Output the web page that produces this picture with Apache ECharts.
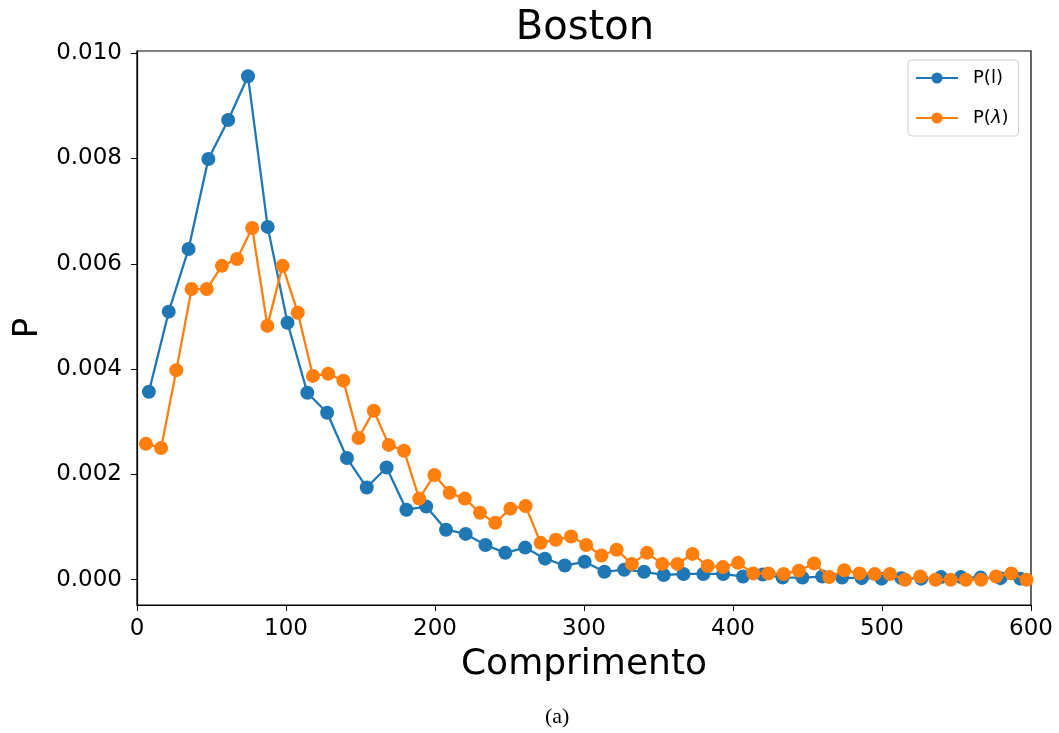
<!DOCTYPE html>
<html>
<head>
<meta charset="utf-8">
<title>Boston</title>
<script src="https://cdn.jsdelivr.net/npm/echarts@6/dist/echarts.min.js"></script>
<style>
  html, body { margin: 0; padding: 0; background: #fff; }
  #chart { width: 1059px; height: 733px; }
</style>
</head>
<body>
<div id="chart"></div>
<script>
// dados - P(l)
var xL = [8, 21.3, 34.6, 47.9, 61.2, 74.5, 87.7, 101, 114.3, 127.6, 140.9, 154.2, 167.5, 180.8, 194.1,
  207.4, 220.6, 233.9, 247.2, 260.5, 273.8, 287.1, 300.4, 313.7, 327, 340.3, 353.5, 366.8, 380.1, 393.4,
  406.7, 420, 433.3, 446.6, 459.9, 473.2, 486.4, 499.7, 513, 526.3, 539.6, 552.9, 566.2, 579.5, 592.8];
var pL = [0.00357, 0.00509, 0.00628, 0.00799, 0.00873, 0.00956, 0.00670, 0.00488, 0.00355, 0.00317,
  0.00231, 0.00175, 0.00213, 0.00133, 0.00139, 0.00095, 0.00087, 0.00066, 0.00051, 0.00061,
  0.00040, 0.00027, 0.00034, 0.00015, 0.00019, 0.00015, 0.00009, 0.00011, 0.00011, 0.00011,
  0.00006, 0.00010, 0.00004, 0.00004, 0.00006, 0.00004, 0.00003, 0.00002, 0.00003, 0.00002,
  0.00005, 0.00005, 0.00004, 0.00003, 0.00002];

// P(lambda)
var xLam = [6, 16.2, 26.4, 36.6, 46.8, 57, 67.1, 77.3, 87.5, 97.7, 107.9, 118.1, 128.3, 138.5, 148.7,
  158.9, 169, 179.2, 189.4, 199.6, 209.8, 220, 230.2, 240.4, 250.6, 260.8, 270.9, 281.1, 291.3, 301.5,
  311.7, 321.9, 332.1, 342.3, 352.5, 362.7, 372.8, 383, 393.2, 403.4, 413.6, 423.8, 434, 444.2, 454.4,
  464.6, 474.7, 484.9, 495.1, 505.3, 515.5, 525.7, 535.9, 546.1, 556.3, 566.5, 576.6, 586.8, 597];
var pLam = [0.00258, 0.00250, 0.00398, 0.00552, 0.00552, 0.00596, 0.00609, 0.00668, 0.00482, 0.00596,
  0.00507, 0.00387, 0.00391, 0.00378, 0.00269, 0.00321, 0.00256, 0.00245, 0.00154, 0.00199,
  0.00165, 0.00154, 0.00127, 0.00108, 0.00135, 0.00140, 0.00070, 0.00076, 0.00082, 0.00066,
  0.00046, 0.00057, 0.00030, 0.00051, 0.00030, 0.00030, 0.00049, 0.00026, 0.00024, 0.00032,
  0.00012, 0.00012, 0.00011, 0.00017, 0.00031, 0.00005, 0.00018, 0.00012, 0.00011, 0.00011,
  0.00000, 0.00006, 0.00000, 0.00000, 0.00000, 0.00000, 0.00006, 0.00012, 0.00000];

var yTicks = [0, 0.002, 0.004, 0.006, 0.008, 0.010];

function pares(xs, ys) {
    var out = [];
    for (let i = 0; i < xs.length; i++) {
        out.push([xs[i], ys[i]]);
    }
    return out;
}

var fonte = 'DejaVu Sans';
var myChart = echarts.init(document.getElementById('chart'));

var option = {
    animation: false,
    backgroundColor: '#fff',
    title: {
        text: 'Boston',
        left: 580,
        textAlign: 'center',
        top: 4,
        textStyle: { fontFamily: fonte, fontSize: 40, fontWeight: 'normal', color: '#000' }
    },
    grid: {
        left: 137, right: 28, top: 51, bottom: 128,
        show: true, borderColor: '#000', borderWidth: 1.2, backgroundColor: 'transparent'
    },
    legend: {
        orient: 'vertical',
        left: 908,
        top: 60,
        padding: [9, 10, 9, 7],
        itemWidth: 42,
        itemHeight: 14,
        itemGap: 22,
        borderColor: '#d0d0d0',
        borderWidth: 1,
        borderRadius: 4,
        textStyle: {
            fontFamily: fonte, fontSize: 18, color: '#000',
            padding: [0, 0, 0, 10],
            rich: {
                i: { fontFamily: fonte, fontSize: 18, fontStyle: 'italic', color: '#000' }
            }
        },
        formatter: function(name) {
            if (name === 'P(λ)') return 'P({i|λ})';
            return name;
        },
        data: ['P(l)', 'P(λ)']
    },
    xAxis: {
        type: 'value',
        min: 0,
        max: 600,
        interval: 100,
        name: 'Comprimento',
        nameLocation: 'middle',
        nameGap: 42,
        nameTextStyle: { fontFamily: fonte, fontSize: 36, color: '#000' },
        splitLine: { show: false },
        axisLine: { show: true, onZero: false, lineStyle: { color: '#000', width: 1.2 } },
        axisTick: { show: true, length: 6, lineStyle: { color: '#000' } },
        axisLabel: { fontFamily: fonte, fontSize: 23, color: '#000', margin: 13 }
    },
    yAxis: {
        type: 'value',
        min: -0.00048,
        max: 0.01004,
        name: 'P',
        nameLocation: 'middle',
        nameGap: 90,
        nameTextStyle: { fontFamily: fonte, fontSize: 34, color: '#000' },
        splitLine: { show: false },
        axisLine: { show: true, onZero: false, lineStyle: { color: '#000', width: 1.2 } },
        axisTick: { show: true, length: 6, customValues: yTicks, lineStyle: { color: '#000' } },
        axisLabel: {
            fontFamily: fonte, fontSize: 23, color: '#000', margin: 15,
            customValues: yTicks,
            formatter: function(v) { return v.toFixed(3); }
        }
    },
    series: [{
            name: 'P(l)',
            type: 'line',
            data: pares(xL, pL),
            symbol: 'circle',
            symbolSize: 14,
            color: '#1f77b4',
            lineStyle: { width: 2.3, color: '#1f77b4' },
            itemStyle: { color: '#1f77b4' },
            z: 2
        },
        {
            name: 'P(λ)',
            type: 'line',
            data: pares(xLam, pLam),
            symbol: 'circle',
            symbolSize: 14,
            color: '#ff7f0e',
            lineStyle: { width: 2.3, color: '#ff7f0e' },
            itemStyle: { color: '#ff7f0e' },
            z: 3
        }
    ],
    graphic: [{
        type: 'text',
        left: 545,
        top: 706,
        style: { text: '(a)', font: '22px "Liberation Serif"', fill: '#000' }
    }]
};
myChart.setOption(option);
</script>
</body>
</html>
